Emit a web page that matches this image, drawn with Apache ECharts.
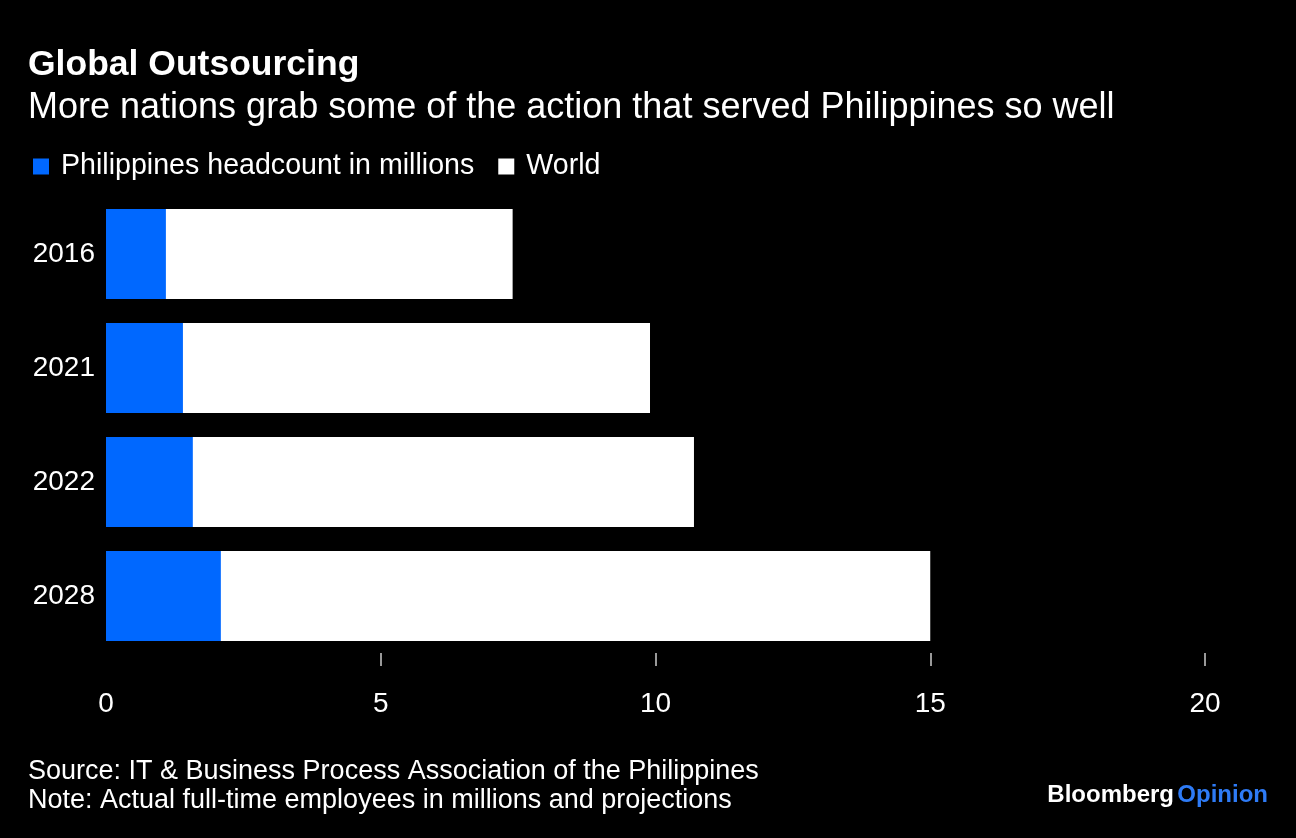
<!DOCTYPE html>
<html>
<head>
<meta charset="utf-8">
<script src="https://cdn.jsdelivr.net/npm/echarts@6/dist/echarts.min.js"></script>
<style>
html,body{margin:0;padding:0;background:#000;}
#c{width:1296px;height:838px;}
</style>
</head>
<body>
<div id="c"></div>
<script>
const categories = ['2016', '2021', '2022', '2028'];
const philippines = [1.09, 1.40, 1.58, 2.09];
const world = [7.4, 9.9, 10.7, 15.0];
const xTicks = [5, 10, 15, 20];

const FONT = '"Liberation Sans", Arial, Helvetica, sans-serif';
const chart = echarts.init(document.getElementById('c'));
chart.setOption({
  backgroundColor: '#000',
  animation: false,
  textStyle: { fontFamily: FONT },
  title: {
    text: 'Global Outsourcing',
    subtext: 'More nations grab some of the action that served Philippines so well',
    left: 23, top: 42,
    itemGap: 7,
    textStyle: { color: '#fff', fontSize: 35.5, fontWeight: 'bold', fontFamily: FONT },
    subtextStyle: { color: '#fff', fontSize: 36, fontFamily: FONT }
  },
  legend: {
    left: 28, top: 147,
    data: ['Philippines headcount in millions', 'World'],
    icon: 'rect', itemWidth: 16, itemHeight: 16, itemGap: 24,
    textStyle: { color: '#fff', fontSize: 28.6, fontFamily: FONT, padding: [0, 0, 0, 7] }
  },
  grid: { left: 106, right: 91, top: 197, bottom: 185, containLabel: false },
  xAxis: {
    type: 'value', min: 0, max: 20, interval: 5,
    axisLine: { show: false },
    splitLine: { show: false },
    axisTick: { show: true, length: 13, customValues: xTicks, lineStyle: { color: '#ccc', width: 1.5 } },
    axisLabel: { color: '#fff', fontSize: 28, margin: 37, fontFamily: FONT }
  },
  yAxis: {
    type: 'category', data: categories, inverse: true,
    axisLine: { show: false }, axisTick: { show: false },
    axisLabel: { color: '#fff', fontSize: 28, margin: 11, fontFamily: FONT }
  },
  series: [
    {
      name: 'World', type: 'bar', data: world,
      itemStyle: { color: '#ffffff' },
      barCategoryGap: '21%', barGap: '-100%'
    },
    {
      name: 'Philippines headcount in millions', type: 'bar', data: philippines,
      itemStyle: { color: '#0068ff' },
      barCategoryGap: '21%', barGap: '-100%'
    }
  ],
  graphic: [
    { type: 'text', left: 28, top: 758, style: { text: 'Source: IT & Business Process Association of the Philippines', fill: '#fff', font: '27px ' + FONT } },
    { type: 'text', left: 28, top: 787, style: { text: 'Note: Actual full-time employees in millions and projections', fill: '#fff', font: '27px ' + FONT } },
    { type: 'text', right: 28, top: 783, style: {
        text: '{a|Bloomberg} {b|Opinion}',
        rich: {
          a: { fill: '#fff', fontSize: 24, fontWeight: 'bold', fontFamily: FONT },
          b: { fill: '#2e7bf6', fontSize: 24, fontWeight: 'bold', fontFamily: FONT }
        }
    } }
  ]
});
</script>
</body>
</html>
